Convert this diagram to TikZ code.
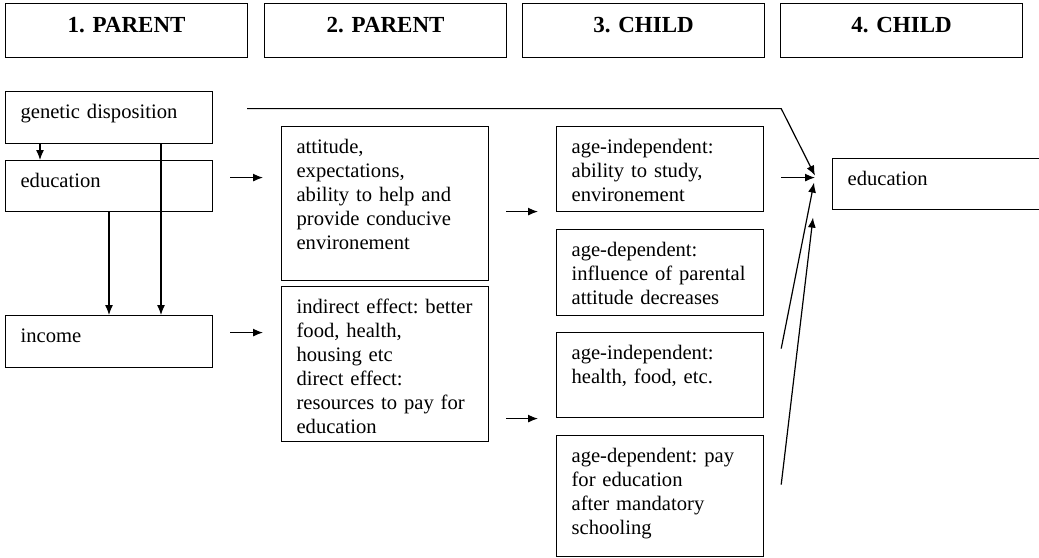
\documentclass[tikz,border=0pt]{standalone}
\usepackage{fontspec}
\setmainfont{Liberation Serif}
\usetikzlibrary{arrows.meta}
\frenchspacing

\begin{document}
\begin{tikzpicture}
    [x=0.5pt, y=-0.5pt, line width=0.6pt,
      font=\fontsize{10.3pt}{12pt}\selectfont,
      box/.style={draw, anchor=north west, align=left, text width=88.5pt,
        inner xsep=7.5pt, inner ysep=0pt, text height=13.5pt},
      head/.style={draw, anchor=north west, align=center, text width=121pt,
        inner xsep=0pt, inner ysep=0pt, text height=14.5pt, text depth=12.5pt,
        font=\bfseries\fontsize{11.5pt}{13pt}\selectfont},
      arr/.style={-{Latex[length=5pt,width=4pt]}}]
    \useasboundingbox (0,0) rectangle (1039,557);
    \node[head] (h1) at (5,3) {1. PARENT};
    \node[head] (h2) at (264,3) {2. PARENT};
    \node[head] (h3) at (522,3) {3. CHILD};
    \node[head] (h4) at (780,3) {4. CHILD};

    \node[box, text depth=12.5pt] (gen) at (5,91) {genetic disposition};
    \node[box, text depth=12pt] (pedu) at (5,160) {education};
    \node[box, text depth=12.5pt] (inc) at (5,315) {income};

    \node[box, text depth=63.5pt] (att) at (281,126)
      {attitude,\\ expectations,\\ ability to help and\\ provide conducive\\ environement};
    \node[box, text depth=64pt] (res) at (281,286)
      {indirect effect: better\\ food, health,\\ housing etc\\ direct effect:\\ resources to pay for\\ education};

    \node[box, text depth=29pt] (indstudy) at (556,126)
      {age-independent:\\ ability to study,\\ environement};
    \node[box, text depth=29.5pt] (depatt) at (556,229)
      {age-dependent:\\ influence of parental\\ attitude decreases};
    \node[box, text depth=29pt] (indhealth) at (556,332)
      {age-independent:\\ health, food, etc.};
    \node[box, text depth=47pt] (deppay) at (556,435)
      {age-dependent: pay\\ for education\\ after mandatory\\ schooling};

    \node[box, text depth=12pt] (cedu) at (832,158) {education};

    \draw[arr] ([xshift=17.5pt]gen.south west) -- ([xshift=17.5pt]pedu.north west);
    \draw[arr] ([xshift=78pt]gen.south west) -- ([xshift=78pt]inc.north west);
    \draw[arr] ([xshift=52pt]pedu.south west) -- ([xshift=52pt]inc.north west);
    \draw[arr] ([shift={(8.5pt,4.25pt)}]pedu.east) -- ([shift={(-9pt,13pt)}]att.west);
    \draw[arr] ([shift={(8.5pt,4.5pt)}]inc.east) -- ([shift={(-9pt,15.75pt)}]res.west);
    \draw[arr] ([shift={(8.5pt,-4pt)}]att.east) -- ([shift={(-9pt,-21.25pt)}]indstudy.west);
    \draw[arr] ([shift={(8.5pt,-27.25pt)}]res.east) -- ([shift={(-9pt,-21.75pt)}]indhealth.west);
    \draw[arr] ([shift={(8.5pt,-4.25pt)}]indstudy.east) -- ([shift={(-8.5pt,3.25pt)}]cedu.west);
    \draw[arr] ([shift={(17pt,4.5pt)}]gen.east) -- ++(267pt,0pt)
      -- ([shift={(-8.5pt,4.25pt)}]cedu.west);
    \draw[arr] ([shift={(8.5pt,13.25pt)}]indhealth.east) -- ([shift={(-9pt,0.75pt)}]cedu.west);
    \draw[arr] ([shift={(8.5pt,5.75pt)}]deppay.east) -- ([shift={(-9.5pt,-16.75pt)}]cedu.west);
\end{tikzpicture}
\end{document}
